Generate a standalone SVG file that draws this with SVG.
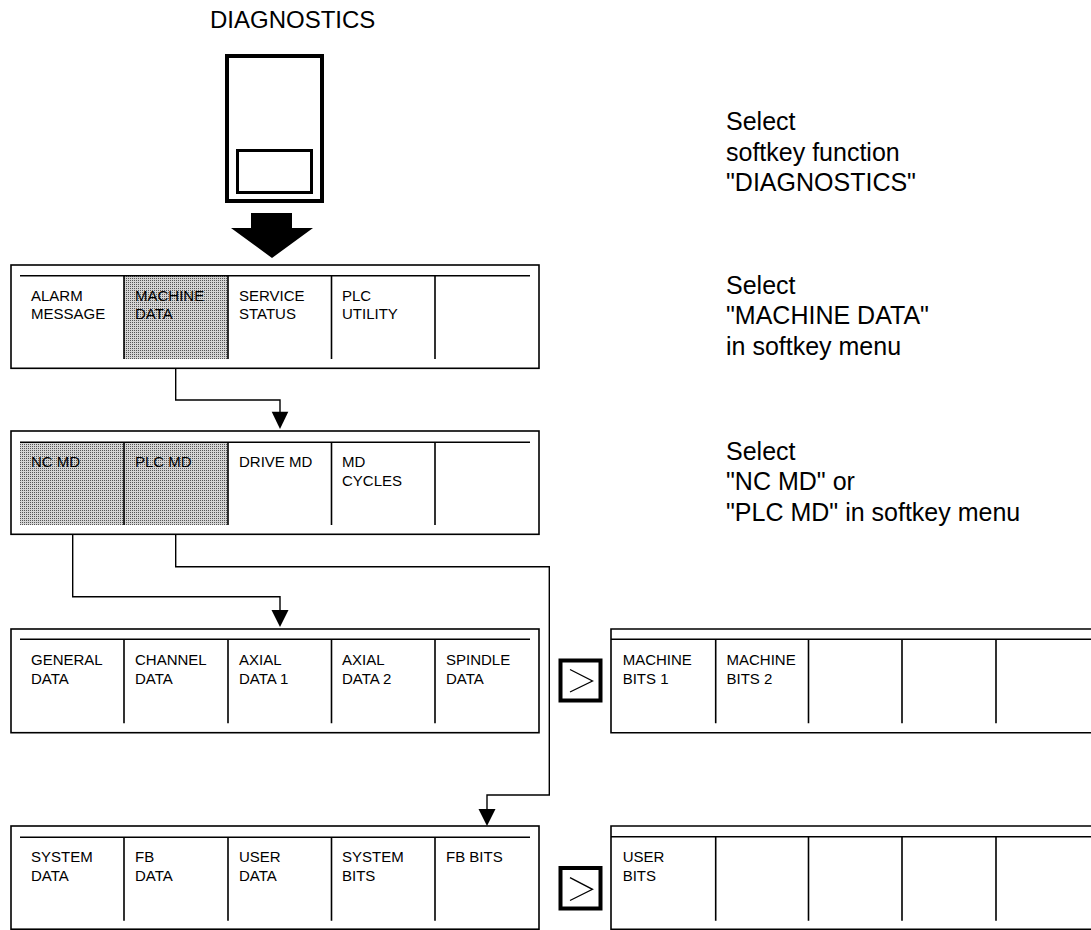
<svg xmlns="http://www.w3.org/2000/svg" width="1091" height="930" viewBox="0 0 1091 930">
<defs>
<pattern id="dots" width="2" height="2" patternUnits="userSpaceOnUse">
<rect width="2" height="2" fill="#d4d4d4"/>
<rect width="1" height="1" fill="#555"/>
</pattern>
</defs>
<style>
text{font-family:"Liberation Sans",Arial,sans-serif;fill:#000}
.m{font-size:15px}
.r{font-size:25px}
.frame{fill:none;stroke:#000;stroke-width:1.6}
.div{stroke:#000;stroke-width:1.6;fill:none}
.con{fill:none;stroke:#000;stroke-width:1.4}
.ah{fill:#000}
.key{fill:none;stroke:#000;stroke-width:4}
</style>
<rect width="1091" height="930" fill="#fff"/>

<g id="diagnostics-key">
<text x="210" y="27.5" style="font-size:24px">DIAGNOSTICS</text>
<rect x="227" y="56" width="95" height="145" fill="none" stroke="#000" stroke-width="4"/>
<rect x="237.5" y="150.5" width="74" height="42" fill="none" stroke="#000" stroke-width="3"/>
<polygon points="251,213 292,213 292,228 313,228 272,258 231,228 251,228" fill="#000"/>
</g>

<g id="instructions">
<text class="r"><tspan x="726" y="130">Select</tspan><tspan x="726" y="161">softkey function</tspan><tspan x="726" y="191">"DIAGNOSTICS"</tspan></text>
<text class="r"><tspan x="726" y="294">Select</tspan><tspan x="726" y="324">"MACHINE DATA"</tspan><tspan x="726" y="355">in softkey menu</tspan></text>
<text class="r"><tspan x="726" y="460">Select</tspan><tspan x="726" y="490">"NC MD" or</tspan><tspan x="726" y="521">"PLC MD" in softkey menu</tspan></text>
</g>

<g id="menu-main">
<rect x="124" y="275.7" width="104" height="83.3" fill="url(#dots)"/>
<rect class="frame" x="11" y="265" width="528" height="103.3"/>
<path class="div" d="M20 275.7H530M124 275.7V359M228 275.7V359M331.5 275.7V359M435 275.7V359"/>
<text class="m"><tspan x="31" y="300.7">ALARM</tspan><tspan x="31" y="319.3">MESSAGE</tspan></text>
<text class="m"><tspan x="135" y="300.7">MACHINE</tspan><tspan x="135" y="319.3">DATA</tspan></text>
<text class="m"><tspan x="239" y="300.7">SERVICE</tspan><tspan x="239" y="319.3">STATUS</tspan></text>
<text class="m"><tspan x="342" y="300.7">PLC</tspan><tspan x="342" y="319.3">UTILITY</tspan></text>
</g>

<g id="menu-machine-data">
<rect x="20" y="442.3" width="208" height="82.7" fill="url(#dots)"/>
<rect class="frame" x="11" y="431" width="528" height="103.3"/>
<path class="div" d="M20 442.3H530M124 442.3V525M228 442.3V525M331.5 442.3V525M435 442.3V525"/>
<text class="m"><tspan x="31" y="467">NC MD</tspan></text>
<text class="m"><tspan x="135" y="467">PLC MD</tspan></text>
<text class="m"><tspan x="239" y="467">DRIVE MD</tspan></text>
<text class="m"><tspan x="342" y="467">MD</tspan><tspan x="342" y="485.6">CYCLES</tspan></text>
</g>

<g id="menu-nc-md">
<rect class="frame" x="11" y="629" width="528" height="103.7"/>
<path class="div" d="M20 639.3H530M124 639.3V723.3M228 639.3V723.3M331.5 639.3V723.3M435 639.3V723.3"/>
<text class="m"><tspan x="31" y="665">GENERAL</tspan><tspan x="31" y="683.6">DATA</tspan></text>
<text class="m"><tspan x="135" y="665">CHANNEL</tspan><tspan x="135" y="683.6">DATA</tspan></text>
<text class="m"><tspan x="239" y="665">AXIAL</tspan><tspan x="239" y="683.6">DATA 1</tspan></text>
<text class="m"><tspan x="342" y="665">AXIAL</tspan><tspan x="342" y="683.6">DATA 2</tspan></text>
<text class="m"><tspan x="446" y="665">SPINDLE</tspan><tspan x="446" y="683.6">DATA</tspan></text>
</g>

<g id="next-key-1">
<rect class="key" x="560.5" y="660.5" width="40" height="40"/>
<polyline points="570,669.5 592.5,681 570,692" fill="none" stroke="#000" stroke-width="1.3"/>
</g>

<g id="menu-nc-md-2">
<path class="frame" d="M1091 629H611V732.7H1091"/>
<path class="div" d="M611 639.3H1091M715.7 639.3V723.3M808.5 639.3V723.3M902 639.3V723.3M996 639.3V723.3"/>
<text class="m"><tspan x="622.7" y="665">MACHINE</tspan><tspan x="622.7" y="683.6">BITS 1</tspan></text>
<text class="m"><tspan x="726.5" y="665">MACHINE</tspan><tspan x="726.5" y="683.6">BITS 2</tspan></text>
</g>

<g id="menu-plc-md">
<rect class="frame" x="11" y="826" width="528" height="103.2"/>
<path class="div" d="M20 837.3H530M124 837.3V920.7M228 837.3V920.7M331.5 837.3V920.7M435 837.3V920.7"/>
<text class="m"><tspan x="31" y="862">SYSTEM</tspan><tspan x="31" y="880.6">DATA</tspan></text>
<text class="m"><tspan x="135" y="862">FB</tspan><tspan x="135" y="880.6">DATA</tspan></text>
<text class="m"><tspan x="239" y="862">USER</tspan><tspan x="239" y="880.6">DATA</tspan></text>
<text class="m"><tspan x="342" y="862">SYSTEM</tspan><tspan x="342" y="880.6">BITS</tspan></text>
<text class="m"><tspan x="446" y="862">FB BITS</tspan></text>
</g>

<g id="next-key-2">
<rect class="key" x="560.5" y="868" width="40" height="40.5"/>
<polyline points="570,877.7 592.5,889.3 570,900.5" fill="none" stroke="#000" stroke-width="1.3"/>
</g>

<g id="menu-plc-md-2">
<path class="frame" d="M1091 826H611V929.2H1091"/>
<path class="div" d="M611 836.7H1091M715.7 836.7V920.7M808.5 836.7V920.7M902 836.7V920.7M996 836.7V920.7"/>
<text class="m"><tspan x="622.7" y="862.3">USER</tspan><tspan x="622.7" y="880.7">BITS</tspan></text>
</g>

<g id="connectors">
<path class="con" d="M175.7 368.3V400H280V413"/>
<polygon class="ah" points="271.7,411.7 288.3,411.7 280,429"/>
<path class="con" d="M72.7 534.3V596.7H280V611"/>
<polygon class="ah" points="271.5,610 288.5,610 280,627"/>
<path class="con" d="M175.7 534.3V566.7H549.3V795H487V810"/>
<polygon class="ah" points="478.5,809 495.5,809 487,826"/>
</g>
</svg>
